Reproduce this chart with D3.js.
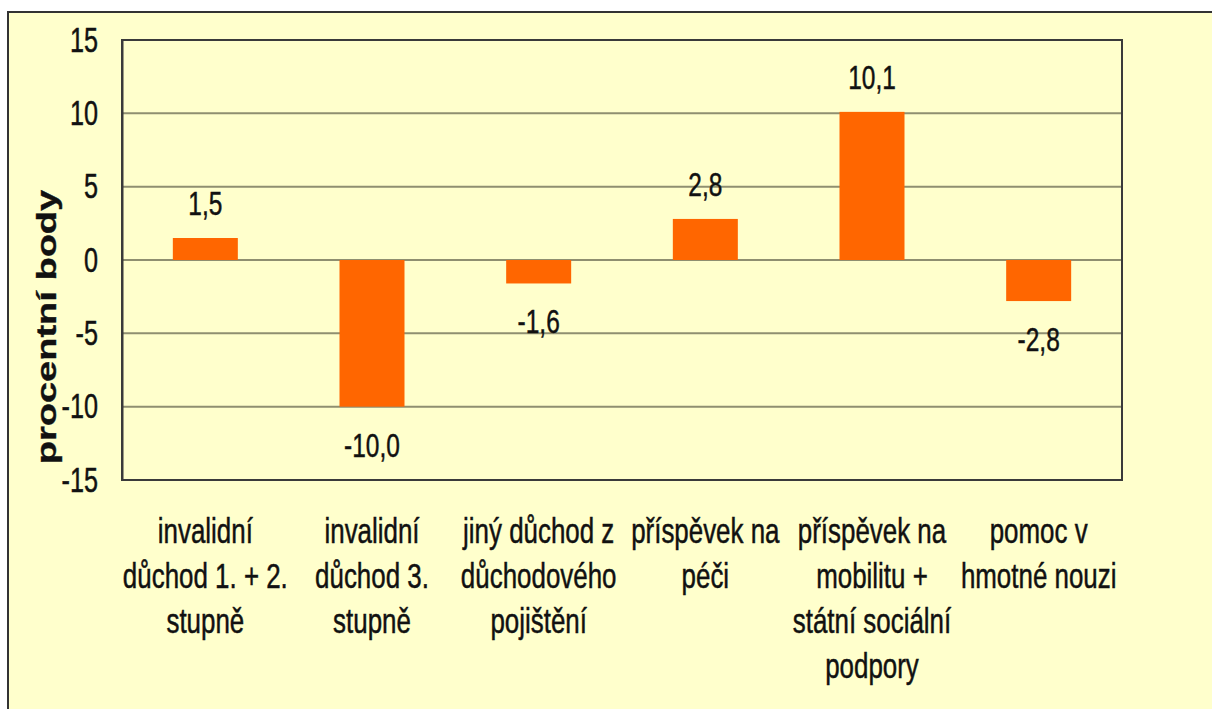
<!DOCTYPE html>
<html lang="cs">
<head>
  <meta charset="UTF-8" />
  <title>Změna v procentních bodech</title>
  <script src="https://d3js.org/d3.v7.min.js"></script>
  <style>
    body { margin: 0; background: #fff; }
    svg text { font-family: "Liberation Sans", Arial, sans-serif; fill: #111; stroke: #111; stroke-width: 0.5px; }
  </style>
</head>
<body>
<svg id="chart" width="1212" height="709"></svg>

<script>
const categories = [
  ["invalidní", "důchod 1. + 2.", "stupně"],
  ["invalidní", "důchod 3.", "stupně"],
  ["jiný důchod z", "důchodového", "pojištění"],
  ["příspěvek na", "péči"],
  ["příspěvek na", "mobilitu +", "státní sociální", "podpory"],
  ["pomoc v", "hmotné nouzi"]
];
const values = [1.5, -10.0, -1.6, 2.8, 10.1, -2.8];
const yTicks = [-15, -10, -5, 0, 5, 10, 15];
const yTitle = "procentní body";

const svg = d3.select("#chart");
const sx = 0.72; // text in the original is squeezed horizontally

// yellow panel with a dark frame on the top and left
svg.append("rect").attr("x", 8).attr("y", 12).attr("width", 1212).attr("height", 709)
  .attr("fill", "#FFFFCC");
svg.append("path").attr("d", "M8,721V12H1212")
  .attr("fill", "none").attr("stroke", "#333").attr("stroke-width", 2);

const margin = { top: 40, left: 122, right: 1122, bottom: 480 };
const idx = d3.range(values.length);

const x = d3.scaleBand().domain(idx).range([margin.left, margin.right]).paddingInner(0).paddingOuter(0);
const y = d3.scaleLinear().domain([-15, 15]).range([margin.bottom, margin.top]);
const barW = 65;

// gridlines
svg.append("g").selectAll("line")
  .data(yTicks.filter(d => d !== 15 && d !== -15))
  .join("line")
  .attr("x1", margin.left).attr("x2", margin.right)
  .attr("y1", d => y(d)).attr("y2", d => y(d))
  .attr("stroke", "#8f8f70").attr("stroke-width", 2);

// bars
svg.append("g").selectAll("rect")
  .data(idx)
  .join("rect")
  .attr("x", i => x(i) + x.bandwidth() / 2 - barW / 2)
  .attr("width", barW)
  .attr("y", i => y(Math.max(0, values[i])))
  .attr("height", i => Math.abs(y(values[i]) - y(0)))
  .attr("fill", "#FF6600");

// plot frame
svg.append("rect")
  .attr("x", margin.left).attr("y", margin.top)
  .attr("width", margin.right - margin.left).attr("height", margin.bottom - margin.top)
  .attr("fill", "none").attr("stroke", "#3a3a3a").attr("stroke-width", 2);

// y axis
const yAxis = svg.append("g")
  .attr("transform", `translate(${margin.left},0)`)
  .call(d3.axisLeft(y).tickValues(yTicks).tickSize(0).tickFormat(d => String(d)));
yAxis.select(".domain").attr("stroke", "#3a3a3a").attr("stroke-width", 2);
yAxis.selectAll(".tick text")
  .attr("x", -24 / sx)
  .attr("transform", `scale(${sx},1)`)
  .attr("font-size", 35)
  .attr("font-family", "Liberation Sans, Arial, sans-serif")
  .attr("fill", "#111");

// y title
svg.append("text")
  .attr("transform", `translate(56,327) scale(${sx},1) rotate(-90)`)
  .attr("text-anchor", "middle")
  .attr("font-size", 38)
  .attr("font-weight", "bold")
  .text(yTitle);

// value labels
const fmt = v => v.toFixed(1).replace(".", ",");
svg.append("g").selectAll("text")
  .data(idx)
  .join("text")
  .attr("transform", i => {
    const cx = x(i) + x.bandwidth() / 2;
    const cy = values[i] >= 0 ? y(values[i]) - 23 : y(values[i]) + 50;
    return `translate(${cx},${cy}) scale(${sx},1)`;
  })
  .attr("text-anchor", "middle")
  .attr("font-size", 34)
  .text(i => fmt(values[i]));

// category labels
const catG = svg.append("g").selectAll("g")
  .data(idx)
  .join("g")
  .attr("transform", i => `translate(${x(i) + x.bandwidth() / 2},543) scale(${sx},1)`);
catG.selectAll("text")
  .data(i => categories[i])
  .join("text")
  .attr("y", (d, j) => j * 45)
  .attr("text-anchor", "middle")
  .attr("font-size", 36)
  .text(d => d);
</script>
</body>
</html>
